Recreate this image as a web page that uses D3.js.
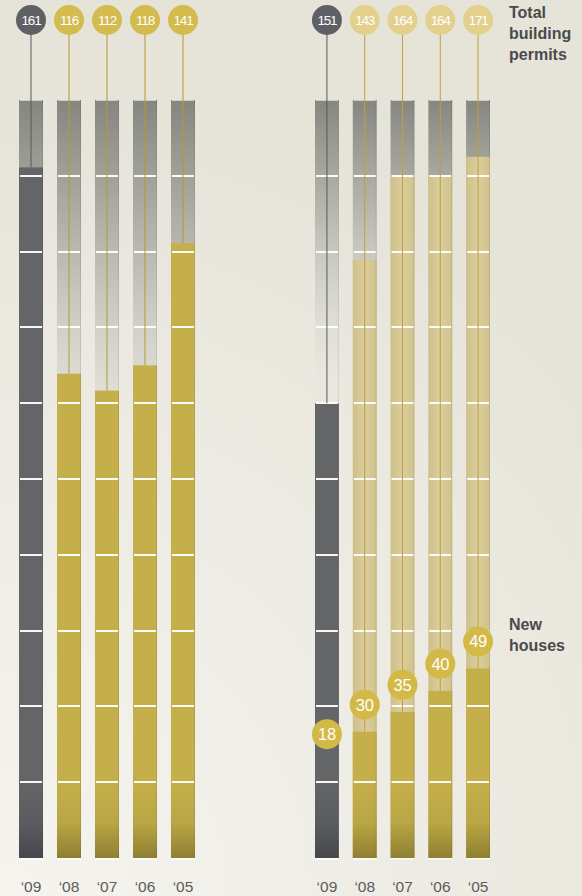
<!DOCTYPE html>
<html>
<head>
<meta charset="utf-8">
<script src="https://cdn.jsdelivr.net/npm/d3@7"></script>
<style>
  html, body { margin: 0; padding: 0; background: #eceae2; }
  svg { display: block; }
</style>
</head>
<body>
<svg id="chart" width="582" height="896"></svg>
<script>
// ---- data ----
const years = ['‘09', '‘08', '‘07', '‘06', '‘05'];
// left panel: total building permits (label) and drawn bar level
const leftPermits = [161, 116, 112, 118, 141];
const leftPermitsLevel = [164, 115, 111, 117, 146];
// right panel: total building permits (label) and drawn bar level
const rightPermits = [151, 143, 164, 164, 171];
const rightPermitsLevel = [108, 142, 162, 162, 166.5];
// right panel: new houses (label) and drawn level
const newHouses = [18, 30, 35, 40, 49];
const newHousesLevel = [23, 30, 34.7, 39.7, 45];
const gridTicks = [18, 36, 54, 72, 90, 108, 126, 144, 162];
const seriesLabels = { permits: ['Total', 'building', 'permits'], houses: ['New', 'houses'] };

// ---- setup ----
const W = 582, H = 896;
const svg = d3.select('#chart');
const defs = svg.append('defs');

const y = d3.scaleLinear().domain([0, 180]).range([858, 100]);
const xLeft = d3.scaleBand().domain(years).range([19, 195]).paddingInner(0.368).paddingOuter(0);
const xRight = d3.scaleBand().domain(years).range([315, 490]).paddingInner(0.368).paddingOuter(0);

// background
const bg = defs.append('radialGradient').attr('id', 'bg')
  .attr('gradientUnits', 'userSpaceOnUse').attr('cx', 0).attr('cy', 896).attr('r', 820);
bg.append('stop').attr('offset', 0).attr('stop-color', '#f5f4ef');
bg.append('stop').attr('offset', 1).attr('stop-color', '#e6e4d9');
svg.append('rect').attr('width', W).attr('height', H).attr('fill', 'url(#bg)');

// gray empty-bar gradients
function grayGrad(id, y2) {
  const gg = defs.append('linearGradient').attr('id', id)
    .attr('gradientUnits', 'userSpaceOnUse').attr('x1', 0).attr('x2', 0).attr('y1', 100).attr('y2', y2);
  gg.append('stop').attr('offset', 0).attr('stop-color', '#85867f').attr('stop-opacity', 1);
  gg.append('stop').attr('offset', 0.45).attr('stop-color', '#b9b9b1').attr('stop-opacity', 0.9);
  gg.append('stop').attr('offset', 1).attr('stop-color', '#e6e5dd').attr('stop-opacity', 0.3);
}
grayGrad('grayGradL', 470);
grayGrad('grayGradR', 380);

function vGrad(id, c0, c1, c2) {
  const g = defs.append('linearGradient').attr('id', id)
    .attr('gradientUnits', 'userSpaceOnUse').attr('x1', 0).attr('x2', 0).attr('y1', 780).attr('y2', 858);
  g.append('stop').attr('offset', 0).attr('stop-color', c0);
  g.append('stop').attr('offset', 0.55).attr('stop-color', c1);
  g.append('stop').attr('offset', 1).attr('stop-color', c2);
}
vGrad('goldGrad', '#c5af4b', '#b9a644', '#8f7f32');
vGrad('darkGrad', '#646567', '#5b5c5f', '#46474a');

const lg = defs.append('linearGradient').attr('id', 'lightGrad').attr('x1', 0).attr('x2', 1).attr('y1', 0).attr('y2', 0);
lg.append('stop').attr('offset', 0).attr('stop-color', '#cfc089');
lg.append('stop').attr('offset', 0.5).attr('stop-color', '#dbce9d');
lg.append('stop').attr('offset', 1).attr('stop-color', '#d1c28b');

const COL = {
  darkCircle: '#5f6063', goldCircle: '#d3bb4e', lightCircle: '#e2d08c', newCircle: '#d3b945',
  darkLine: '#58595c', goldLine: '#b39b30', lightLine: '#bba23e'
};
const fontFam = '"Liberation Sans", Arial, Helvetica, sans-serif';

function drawPanel(x, levels, labels, isRight) {
  const g = svg.append('g');
  const bw = x.bandwidth();
  years.forEach((yr, i) => {
    const x0 = x(yr), cx = x0 + bw / 2;
    const isDark = i === 0;
    // empty bar
    g.append('rect').attr('x', x0).attr('y', y(180)).attr('width', bw).attr('height', y(0) - y(180))
      .attr('fill', isRight ? 'url(#grayGradR)' : 'url(#grayGradL)');
    // top highlight
    g.append('rect').attr('x', x0 + 1).attr('y', y(180)).attr('width', bw - 2).attr('height', 1)
      .attr('fill', '#ffffff').attr('opacity', 0.6);
    // fill
    let fillTop = y(levels[i]);
    if (isRight && !isDark) {
      g.append('rect').attr('x', x0).attr('y', fillTop).attr('width', bw).attr('height', y(0) - fillTop)
        .attr('fill', 'url(#lightGrad)');
      const nt = y(newHousesLevel[i]);
      g.append('rect').attr('x', x0).attr('y', nt).attr('width', bw).attr('height', y(0) - nt)
        .attr('fill', 'url(#goldGrad)');
    } else {
      g.append('rect').attr('x', x0).attr('y', fillTop).attr('width', bw).attr('height', y(0) - fillTop)
        .attr('fill', isDark ? 'url(#darkGrad)' : 'url(#goldGrad)');
    }
    // right edge shade
    g.append('rect').attr('x', x0 + bw - 1).attr('y', y(180)).attr('width', 1).attr('height', y(0) - y(180))
      .attr('fill', '#3a3a3a').attr('opacity', 0.12);
    // bottom white line
    g.append('rect').attr('x', x0).attr('y', y(0)).attr('width', bw).attr('height', 1.5)
      .attr('fill', '#ffffff').attr('opacity', 0.9);
    // grid lines
    gridTicks.forEach(t => {
      g.append('rect').attr('x', x0 + 1).attr('y', Math.round(y(t)) - 1).attr('width', bw - 2).attr('height', 2)
        .attr('fill', '#ffffff').attr('opacity', 0.95);
    });
    // vertical leader line
    const lineEnd = (isRight && !isDark) ? y(newHousesLevel[i]) : fillTop;
    g.append('line').attr('x1', cx).attr('x2', cx).attr('y1', 20).attr('y2', lineEnd)
      .attr('stroke', isDark ? COL.darkLine : (isRight ? COL.lightLine : COL.goldLine))
      .attr('stroke-width', 1);
    // top circle
    g.append('circle').attr('cx', cx).attr('cy', 20).attr('r', 15)
      .attr('fill', isDark ? COL.darkCircle : (isRight ? COL.lightCircle : COL.goldCircle));
    g.append('text').attr('x', cx).attr('y', 20).attr('dy', '0.36em')
      .attr('text-anchor', 'middle').attr('fill', '#ffffff')
      .attr('font-family', fontFam).attr('font-size', 13.5).attr('letter-spacing', '-1.2px')
      .text(labels[i]);
    // year label
    g.append('text').attr('x', cx).attr('y', 892).attr('text-anchor', 'middle')
      .attr('fill', '#5b5b5b').attr('font-family', fontFam).attr('font-size', 15.5)
      .text(yr);
  });
  if (isRight) {
    years.forEach((yr, i) => {
      const cx = x(yr) + bw / 2;
      const cy = y(newHousesLevel[i]) - 27;
      g.append('circle').attr('cx', cx).attr('cy', cy).attr('r', 15).attr('fill', COL.newCircle);
      g.append('text').attr('x', cx).attr('y', cy).attr('dy', '0.36em')
        .attr('text-anchor', 'middle').attr('fill', '#ffffff')
        .attr('font-family', fontFam).attr('font-size', 16.5).attr('letter-spacing', '-0.3px')
        .text(newHouses[i]);
    });
  }
}

drawPanel(xLeft, leftPermitsLevel, leftPermits, false);
drawPanel(xRight, rightPermitsLevel, rightPermits, true);

// series labels
const t1 = svg.append('text').attr('x', 509).attr('y', 17.5)
  .attr('font-family', fontFam).attr('font-weight', 'bold').attr('font-size', 16).attr('fill', '#4a4a4c');
seriesLabels.permits.forEach((s, i) => t1.append('tspan').attr('x', 509).attr('dy', i === 0 ? 0 : 21).text(s));
const t2 = svg.append('text').attr('x', 509).attr('y', 630)
  .attr('font-family', fontFam).attr('font-weight', 'bold').attr('font-size', 16).attr('fill', '#4a4a4c');
seriesLabels.houses.forEach((s, i) => t2.append('tspan').attr('x', 509).attr('dy', i === 0 ? 0 : 21).text(s));
</script>
</body>
</html>
